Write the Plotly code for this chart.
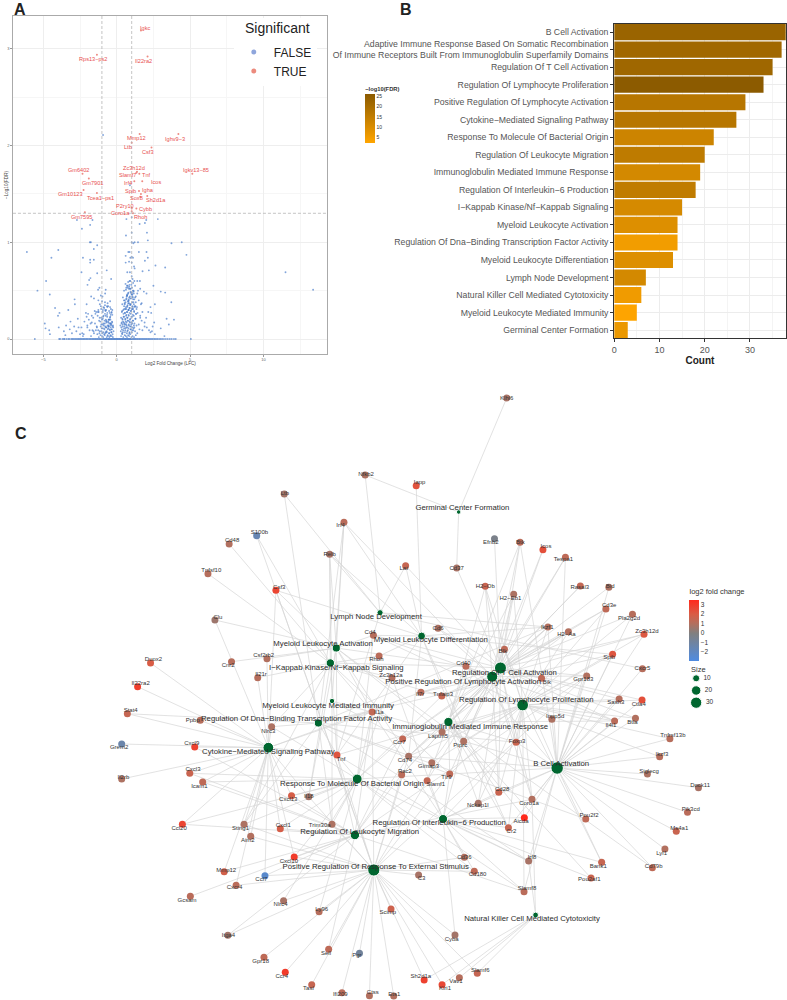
import plotly.graph_objects as go

W, H = 787, 1000

# ---------- Panel A: volcano ----------
sig_genes = ["Igkc","Rps13−ps2","Il22ra2","Mmp12","Ighv9−3","Ltb","Csf3","Gm6402","Zc3h12d","Igkv13−85",
             "Slamf7","Tnf","Irf4","Icos","Gm7901","Igha","Spib","Sox8","Gm10123","Tcea1−ps1",
             "Sh2d1a","P2ry10","Cybb","Coro1a","Rhoh","Gm7595"]
sig_lfc = [1.65,-1.35,2.1,1.56,4.2,1.02,2.37,-2.33,1.38,5.15,
           1.34,1.54,1.2,1.74,-1.9,1.65,1.52,1.6,-2.26,-1.35,
           2.08,1.02,1.34,1.02,1.11,-2.17]
sig_fdr = [3.19,2.94,2.92,2.12,2.12,2.03,1.98,1.71,1.73,1.71,
           1.72,1.71,1.63,1.63,1.66,1.5,1.53,1.47,1.54,1.51,
           1.48,1.35,1.35,1.32,1.3,1.31]
sig_label_x = [142.7,90.7,141.7,134.3,172.7,125.3,145.3,76.3,131.7,194,
               125.3,144.7,125.3,153.3,90,145.3,127.7,134.3,67.7,98.3,
               154,122.7,143,118.3,137.7,78.7]
sig_label_y = [28,59.3,61.3,138.3,139.3,146.7,152,169.7,167.7,169.7,
               175.3,174.7,182.7,182,183,189.7,190.7,198,194.3,198,
               200,205.7,209.3,213,216.7,216.7]

# points on the y=0 floor of the volcano
floor_lfc = [-5.58,-3.92,-3.85,-3.7,-3.6,-3.55,-3.42,-3.3,-3.22,-3.1,-3.02,-2.95,-2.86,-2.78,-2.7,-2.62,-2.55,-2.47,-2.4,-2.32,
             -2.25,-2.18,-2.1,-2.03,-1.96,-1.88,-1.81,-1.74,-1.66,-1.6,-1.53,-1.46,-1.4,-1.33,-1.27,-1.2,-1.14,-1.08,-1.02,-0.96,
             -0.9,-0.85,-0.79,-0.74,-0.68,-0.63,-0.58,-0.53,-0.48,-0.43,-0.38,-0.33,-0.28,-0.23,-0.18,-0.13,-0.08,-0.03,0.02,0.07,
             0.12,0.17,0.22,0.27,0.32,0.37,0.42,0.47,0.52,0.57,0.62,0.67,0.72,0.77,0.82,0.87,0.92,0.97,1.02,1.08,
             1.14,1.2,1.26,1.32,1.39,1.45,1.52,1.58,1.65,1.72,1.79,1.86,1.93,2.0,2.07,2.15,2.22,2.3,2.38,2.46,
             2.55,2.63,2.72,2.8,2.9,3.0,3.1,3.22,3.35,3.48,3.62,3.75,3.9,4.02,5.05]

# points above the floor
ns_lfc = [-0.93,-2.71,-1.65,-1.81,-2.37,0.66,1.02,1.56,1.92,2.01,2.8,2.06,1.02,0.63,0.9,
          -6.12,-3.98,-4.45,-2.3,-1.81,-1.81,-1.56,-1.56,-1.33,-1.83,-1.76,-2.4,-1.33,-0.68,-0.38,
          -1.79,-1.88,-1.99,-4.81,-5.4,-4.56,-2.87,-1.74,-1.18,-1.27,-0.75,-0.79,-1.08,-0.97,-1.25,
          0.79,0.88,1.02,0.61,0.93,1.11,0.84,0.61,1.02,1.18,1.22,0.72,0.9,1.02,1.08,
          1.2,1.4,1.58,1.51,2.03,2.12,1.92,2.64,3.3,1.76,2.19,4.75,3.73,4.43,11.5,13.38,1.02,1.13,1.22,1.45,2.12,
          0.75,0.85,0.95,1.1,0.8,1.0,1.15,0.7,0.9,1.05,1.25,0.65,0.82,1.0,1.12,1.3,1.45,1.6,1.85,
          2.03,2.5,3.0,3.3,3.72,2.6,2.3,1.7,0.55,0.72,0.92,1.1,1.28,0.6,0.82,1.02,1.18,1.35,
          2.35,3.4,3.55,3.9,-4.2,-3.9,-4.0,-3.3,-2.85,-2.65,-2.1,-2.05,-1.55,-1.15,-1.0,-0.8,-0.62,-0.45,-0.72,-1.4,
          -4.9,-4.85,-4.6,-4.55,-3.95,-3.6,-3.5,-3.2,-3.05,-2.9,-2.75,-2.4,-2.25,-2.0,-1.85,-1.7,-1.55,-1.35,-1.2,-1.05,
          -0.95,-0.88,-0.8,-0.72,-0.65,-0.58,-0.5,-0.42,-0.35,-1.15,-1.02,-0.9,-0.78,-0.7,-0.55,-0.48,-0.4,-0.3,-1.32,-1.1,
          -0.98,-0.85,-0.75,-0.62,-0.52,-0.44,-0.36,-0.28,-1.42,-1.22,-1.0,-0.92,-0.82,-0.68,-0.6,-0.5,-0.42,-0.34,-0.26,-1.6,
          -1.3,-1.12,-0.95,-0.86,-0.74,-0.66,-0.56,-0.46,-0.38,-0.32,-0.24,-1.75,-1.45,-1.25,-1.05,-0.9,-0.76,-0.7,-0.58,-0.47,
          -0.4,-0.3,-0.22,-2.2,-1.95,-1.65,-1.48,-1.28,-1.08,-0.94,-0.8,-0.64,-0.54,-0.45,-0.36,-0.26,-2.5,-2.3,-1.9,-1.7,
          0.3,0.38,0.45,0.55,0.62,0.7,0.78,0.85,0.92,1.0,1.08,1.18,1.3,0.28,0.35,0.42,0.5,0.58,0.65,0.72,
          0.8,0.88,0.95,1.05,1.15,1.25,1.4,0.25,0.33,0.4,0.48,0.55,0.62,0.68,0.75,0.82,0.9,0.98,1.06,1.2,
          1.35,1.55,0.3,0.4,0.5,0.58,0.66,0.74,0.82,0.9,1.0,1.12,1.28,1.5,1.75,0.35,0.45,0.55,0.64,0.72,
          0.8,0.88,0.97,1.1,1.3,1.6,1.9,2.2,0.38,0.5,0.6,0.7,0.78,0.86,0.96,1.08,1.22,1.42,1.7,2.05,
          2.4,0.42,0.55,0.68,0.8,0.92,1.05,1.2,1.38,1.6,1.9,2.3,2.6,0.5,0.65,0.78,0.9,1.02,1.15,1.3,
          1.5,1.75,2.0,2.45,0.6,0.75,0.88,1.0,1.12,1.25,1.4,1.65,2.15,2.55,3.0,3.25,
          0.31,0.36,0.41,0.44,0.52,0.56,0.6,0.63,0.69,0.73,0.76,0.83,0.86,0.91,0.94,0.99,1.03,1.07,1.13,1.17,
          0.34,0.39,0.43,0.47,0.53,0.59,0.64,0.67,0.71,0.77,0.81,0.87,0.93,0.96,1.01,1.04,1.09,1.16,1.21,1.27,
          0.37,0.46,0.51,0.57,0.61,0.69,0.74,0.79,0.84,0.89,0.98,1.06,1.11,1.19,1.24,1.33,0.49,0.54,0.66,0.71,
          0.76,0.85,0.91,1.03,1.14,0.63,0.72,0.81,0.94,1.07,1.17,0.7,0.83,0.97,1.1,0.78,0.87,1.04,0.92,1.16,
          -1.18,-1.04,-0.99,-0.91,-0.84,-0.77,-0.71,-0.67,-0.61,-0.57,-0.51,-0.46,-0.41,-0.37,-0.33,-0.27,-1.26,-1.09,-0.96,-0.87,
          -0.81,-0.73,-0.69,-0.63,-0.59,-0.53,-0.49,-0.43,-0.39,-0.31,-1.36,-1.16,-1.01,-0.93,-0.83,-0.76,-0.64,-0.55,-0.44,-0.35,
          -1.5,-1.23,-1.06,-0.89,-0.79,-0.66,-0.52,-0.41,-2.05,-1.78,-2.6,-3.15,-3.45,-2.35,-2.0,-1.58]
ns_fdr = [2.11,1.23,1.23,1.18,1.14,1.24,1.26,1.19,1.2,1.23,1.24,1.1,1.1,1.07,1.59,
          0.9,0.92,0.84,0.84,0.82,0.79,0.82,0.93,0.97,1.0,1.0,0.69,0.68,0.71,0.62,
          0.63,0.61,0.56,0.6,0.5,0.46,0.41,0.44,0.53,0.51,0.51,0.47,0.45,0.44,0.4,
          0.9,0.9,0.85,0.86,0.84,0.84,0.8,0.79,0.79,0.75,0.73,0.69,0.69,0.65,0.62,
          0.6,0.6,0.6,0.9,0.9,0.84,0.81,0.76,0.74,0.7,0.71,0.87,0.99,1.0,0.69,0.51,1.0,0.99,1.0,1.0,1.02,
          0.53,0.54,0.52,0.5,0.48,0.47,0.49,0.45,0.44,0.46,0.43,0.41,0.4,0.42,0.41,0.38,0.5,0.52,0.49,
          0.47,0.55,0.49,0.48,0.38,0.36,0.33,0.37,0.36,0.34,0.35,0.33,0.34,0.31,0.3,0.31,0.29,0.31,
          0.27,0.21,0.15,0.2,0.32,0.27,0.24,0.3,0.36,0.21,0.27,0.36,0.42,0.36,0.39,0.35,0.37,0.33,0.3,0.28,
          0.16,0.11,0.09,0.05,0.12,0.08,0.04,0.1,0.06,0.13,0.08,0.12,0.05,0.14,0.09,0.17,0.06,0.12,0.19,0.15,
          0.21,0.14,0.26,0.18,0.23,0.11,0.2,0.16,0.28,0.08,0.11,0.16,0.13,0.08,0.14,0.1,0.16,0.3,0.05,0.04,
          0.06,0.05,0.07,0.04,0.06,0.03,0.07,0.05,0.09,0.02,0.03,0.02,0.04,0.02,0.03,0.02,0.04,0.03,0.02,0.22,
          0.24,0.18,0.28,0.32,0.2,0.25,0.17,0.22,0.15,0.18,0.12,0.03,0.26,0.3,0.22,0.24,0.29,0.19,0.34,0.27,
          0.31,0.25,0.08,0.18,0.26,0.09,0.16,0.28,0.34,0.3,0.38,0.33,0.2,0.39,0.1,0.14,0.05,0.03,0.2,0.24,
          0.03,0.05,0.02,0.04,0.03,0.02,0.04,0.03,0.05,0.02,0.03,0.02,0.04,0.08,0.1,0.07,0.11,0.09,0.12,0.08,
          0.11,0.07,0.1,0.09,0.11,0.08,0.06,0.14,0.16,0.13,0.17,0.15,0.18,0.14,0.19,0.15,0.17,0.13,0.16,0.12,
          0.14,0.1,0.22,0.2,0.23,0.21,0.25,0.22,0.24,0.2,0.23,0.19,0.21,0.15,0.09,0.28,0.3,0.27,0.31,0.28,
          0.3,0.27,0.29,0.25,0.26,0.22,0.13,0.09,0.36,0.34,0.38,0.33,0.37,0.32,0.36,0.31,0.34,0.27,0.19,0.12,
          0.08,0.43,0.4,0.44,0.39,0.42,0.38,0.41,0.33,0.24,0.17,0.07,0.05,0.5,0.53,0.47,0.52,0.46,0.5,0.44,
          0.4,0.28,0.22,0.13,0.57,0.55,0.6,0.56,0.58,0.55,0.47,0.36,0.28,0.17,0.11,0.03,
          0.12,0.06,0.15,0.09,0.13,0.07,0.11,0.15,0.06,0.12,0.09,0.14,0.06,0.13,0.1,0.15,0.07,0.12,0.09,0.14,
          0.17,0.21,0.18,0.23,0.16,0.2,0.24,0.17,0.22,0.19,0.25,0.18,0.21,0.26,0.17,0.23,0.19,0.24,0.16,0.21,
          0.29,0.26,0.31,0.27,0.33,0.28,0.35,0.3,0.37,0.32,0.29,0.34,0.31,0.28,0.33,0.26,0.4,0.37,0.42,0.45,
          0.39,0.43,0.36,0.48,0.38,0.51,0.46,0.41,0.49,0.44,0.36,0.55,0.52,0.48,0.43,0.59,0.56,0.53,0.6,0.47,
          0.06,0.08,0.11,0.07,0.1,0.06,0.12,0.07,0.1,0.13,0.06,0.09,0.12,0.07,0.1,0.13,0.09,0.13,0.15,0.11,
          0.16,0.12,0.17,0.14,0.18,0.13,0.16,0.2,0.14,0.17,0.13,0.22,0.2,0.23,0.19,0.24,0.27,0.2,0.23,0.27,
          0.29,0.28,0.31,0.33,0.3,0.34,0.29,0.25,0.23,0.16,0.12,0.18,0.14,0.06,0.12,0.08]

# ---------- Panel B: bars ----------
term_bar_names = ["B Cell Activation",
    "Adaptive Immune Response Based On Somatic Recombination<br>Of Immune Receptors Built From Immunoglobulin Superfamily Domains",
    "Regulation Of T Cell Activation","Regulation Of Lymphocyte Proliferation",
    "Positive Regulation Of Lymphocyte Activation","Cytokine−Mediated Signaling Pathway",
    "Response To Molecule Of Bacterial Origin","Regulation Of Leukocyte Migration",
    "Immunoglobulin Mediated Immune Response","Regulation Of Interleukin−6 Production",
    "I−Kappab Kinase/Nf−Kappab Signaling","Myeloid Leukocyte Activation",
    "Regulation Of Dna−Binding Transcription Factor Activity","Myeloid Leukocyte Differentiation",
    "Lymph Node Development","Natural Killer Cell Mediated Cytotoxicity",
    "Myeloid Leukocyte Mediated Immunity","Germinal Center Formation"]
term_bar_count = [38,37,35,33,29,27,22,20,19,18,15,14,14,13,7,6,5,3]
term_bar_fdr = [23,21.5,22,26,17,17,12.5,15.5,11,15,10.5,9,4.5,9,11,5,2,6]

# ---------- Panel C: network ----------
gene_names = ["Nfkb2","Ltb","Irf4","S100b","Cd48","Relb","Tnfsf10","Csf3","Clu","Cd4",
    "Rhoh","Duox2","Cnr2","Csf2rb2","Il21r","Il22ra2","Zc3h12a","Il7r","Tnfaip3","Il1a",
    "Nlrc3","Tnf","Ccr7","Laptm5","Ptprc","Cd74","Gimap3","Rac2","Tlr9","Slamf1",
    "Il18","Cxcl13","Cd40","Cd6","Stat4","Ppbp","Grem2","Cxcl9","Cxcl3","Il2rb",
    "Icam1","Ccl20","Sting1","Aim2","Cxcl1","Trim30a","Cxcl10","Mmp12","Ccl7","Cxcr4",
    "Gcsam","Nlrc4","Ly96","Scimp","Itga4","Sell","Pgr","Gpr18","Ccr4","Tasl",
    "Ifi209","Ctss","Ets1","Klhl6","Iapp","Efnb2","Btk","Icos","Tespa1","Lat",
    "Cd37","H2−Ob","H2−Eb1","Rasal3","Bid","Cd3e","Pla2g2d","Ikzf1","H2−Aa","Zc3h12d",
    "Blk","Spib","Cxcr5","Gpr183","Bik","Sash3","Ctla4","Inpp5d","Il4i1","Btla",
    "Tnfrsf13b","Foxp3","Ikzf3","Siglecg","Dock11","Cd28","Coro1a","Nckap1l","Pik3cd","Pou2f2",
    "Aicda","Ms4a1","Cr2","Lyl1","Cd79b","Bank1","Irf8","Cd36","Cd180","C3",
    "Pou2af1","Slamf8","Cyba","Slamf6","Sh2d1a","Vav1","Klri1"]
gene_lfc = [0.9,0.7,1.2,-1.5,1.0,0.8,1.1,2.7,0.6,1.1,
    1.2,2.0,1.1,1.0,1.1,2.9,1.0,1.2,1.5,1.4,
    0.9,2.2,1.4,0.9,0.9,0.8,0.9,1.2,1.3,1.4,
    0.7,1.9,1.2,0.9,1.5,1.1,-1.3,2.8,1.6,0.9,
    1.3,2.7,0.9,1.0,1.9,0.9,3.0,1.8,-2.3,1.2,
    1.2,0.8,1.1,1.7,0.7,1.3,-0.8,1.3,3.0,1.5,
    1.2,1.0,1.0,0.8,2.3,-0.3,1.2,2.4,1.3,1.5,
    0.8,1.6,0.9,1.4,0.9,1.3,1.1,1.0,1.0,2.1,
    1.3,2.2,1.1,1.0,1.3,1.1,2.4,0.9,1.2,1.0,
    1.1,1.6,1.1,0.9,0.8,1.6,1.0,0.8,1.2,1.3,
    3.5,1.6,1.5,1.0,1.3,1.5,0.8,1.0,1.3,0.8,
    1.6,1.2,0.7,1.5,2.8,1.1,2.6]
# network layout coordinates of the gene nodes
gene_x = [364,282.7,342.7,255,227.3,328.3,206,274.3,213,372.3,
    378,148.3,229.7,265.3,256,135.3,391,420,441,371,
    270,335.7,401.7,441.3,463,407.7,431,400.7,449,426.3,
    307.3,290,465.3,437.3,125,198.3,119.3,192.7,187.7,119.3,
    200.7,180.3,242.3,249,278.7,330.7,292.7,222.3,263.3,234.3,
    188.3,282,317.7,390,226,327.3,358.3,262.3,283.7,310.3,
    340.7,368.3,392.7,506.3,415.3,494,519.7,542.7,565.3,404.7,
    456,484.7,513.3,580.3,609,606,632.7,547.7,568.3,644.3,
    504,612.7,642.7,586.7,541.3,619.3,642.3,551.7,614.7,635.7,
    670.3,515.7,660,647.7,699,498.3,531.7,477.7,688,585.7,
    524,676.7,508,665.3,652.7,601.7,528.3,463.7,473.7,417.7,
    591,523.7,454.3,476.7,423.3,458.7,441.3]
gene_y = [475,494,522.3,535.7,544,554.3,573.7,590.3,620,635.3,
    656,663,661.7,658.7,677.7,686.7,677.7,692.3,696,712,
    726.7,755,739,732,741.3,756.3,762.7,774.7,774,780.7,
    796.7,795.7,666.3,628.3,713.7,720.3,744,747,773.3,779,
    782,824.3,824.3,836.3,828.7,824.3,857,871.7,875.7,885.3,
    896.3,900.7,911.7,909,935.3,949.3,953.3,957.3,972.3,984.7,
    992.7,995.7,996,398,485.7,538.7,542.3,549.7,557.3,565.7,
    568,586.3,594.3,586,587.3,609,614.3,627,631.7,634.3,
    649.3,654.3,668.7,676,678.3,699,700,719.3,721,718.3,
    738.7,742.3,756.7,774,787.7,792.3,799.3,803.3,812.3,819,
    817.7,831.3,827.7,849,867.7,862.3,861,857.3,871.3,875,
    878,891.7,935,973.3,980,977.7,984.7]
gene_label_x = [365,283.3,339.3,257.7,230.3,328.3,209.3,277.7,216,369,
    375.3,151.3,226.3,262,259.3,138.3,390,419.3,442.3,377.7,
    266.7,339.7,398.3,437.3,459.7,404,427.7,404,445.7,435,
    307.3,286.7,462.7,437.3,128.3,190.7,116.7,189.7,191,121,
    197.3,177,238.7,246,281.7,318.3,287.3,224.3,259.7,232.7,
    185,279,320.3,386.7,226.7,324.7,355.7,259,280.3,307,
    339,371.7,393.3,506.3,418.7,490.3,520,545.7,563.3,402.7,
    456,484.7,510,579.7,610.3,609.3,629.3,547,566.3,647.3,
    502.3,609.3,642.7,583.3,546.7,616,639,555,611,632.7,
    673.3,516.7,662.3,649.3,700.7,501.7,528.7,477.3,691.3,589,
    520.7,679.7,511,662,654,598.3,531.7,463.7,477,420.7,
    589.3,526.7,451,479.7,420,455.3,444.3]
gene_label_y = [474,493.3,525.7,532.7,540.7,554.7,570.7,587.3,617,632,
    659,659.7,665.3,655.7,674.3,683.3,675.3,694,694,712.7,
    731,759,742.7,736,745.3,760.3,766.3,771,777.7,784.7,
    796.7,799.7,663.3,628.3,710.7,720.3,747.3,743.3,769.7,777.7,
    786,828,828,840.3,825,825,861,870,879.7,887.7,
    900,904.7,909,912.7,935,953,955.3,961.3,976,988.7,
    994.3,992.7,994,398,482.3,542.7,542,546.7,559.7,568.7,
    568,586.3,598.3,587.7,586.3,605.7,618,627.7,634.7,631.3,
    651.3,657.7,668.7,679.7,682.3,702.7,704,716,725,722,
    735,741.7,754,771.7,785.7,789,803.7,805,809,815.7,
    821.3,828,831.3,853,866,866.3,857.7,857.3,874.7,878.7,
    879.7,888.7,939,970.3,976.7,981.7,988.7]

term_names = ["Germinal Center Formation","Lymph Node Development","Myeloid Leukocyte Differentiation",
    "Myeloid Leukocyte Activation","I−Kappab Kinase/Nf−Kappab Signaling","Regulation Of T Cell Activation",
    "Positive Regulation Of Lymphocyte Activation","Myeloid Leukocyte Mediated Immunity",
    "Regulation Of Dna−Binding Transcription Factor Activity","Regulation Of Lymphocyte Proliferation",
    "Immunoglobulin Mediated Immune Response","Cytokine−Mediated Signaling Pathway","B Cell Activation",
    "Response To Molecule Of Bacterial Origin","Regulation Of Interleukin−6 Production",
    "Regulation Of Leukocyte Migration","Positive Regulation Of Response To External Stimulus",
    "Natural Killer Cell Mediated Cytotoxicity"]
term_size = [3,7,13,14,15,35,29,5,14,33,19,27,38,22,18,20,36,6]
term_x = [458,379,420.7,335,329,500,491.7,330.7,317,522.3,447.7,266.7,557,356,442.3,353.7,372.7,535.3]
term_y = [512,612.7,636,648,663,668,676.7,701,723,705,722,747.7,768,779,819,835,870,915]
term_label_x = [461.7,375,430,321.7,335,504,462.5,326.7,295,526,469.5,266.7,561,350.7,438.5,358.5,374.7,531.7]
term_label_y = [508,617,640,643.7,668,672.7,682,705.7,719,700,726.7,752,764,784,823,831.7,866.7,919]

term_genes = {
 "Germinal Center Formation": ["Klhl6","Nfkb2","Cd37"],
 "Lymph Node Development": ["Nfkb2","Ltb","Relb","Ikzf1","Cxcr5","Lat","Tnf"],
 "Myeloid Leukocyte Differentiation": ["Iapp","Irf4","Relb","Csf3","Cd4","Rhoh","Lat","Ikzf1","Spib","Tnf","Cd74","Ptprc","Cr2"],
 "Myeloid Leukocyte Activation": ["Csf3","Clu","Cnr2","Csf2rb2","Irf4","Il1a","Cd4","Tnf","Laptm5","Ptprc","Cd40","Il18","Cd74","Relb"],
 "I−Kappab Kinase/Nf−Kappab Signaling": ["Tnfsf10","Cd48","Relb","S100b","Zc3h12a","Tnfaip3","Rhoh","Il1a","Tnf","Cd40","Il21r","Nlrc3","Tlr9","Sting1","Il18"],
 "Regulation Of T Cell Activation": ["Efnb2","Btk","Icos","Tespa1","Rasal3","H2−Ob","H2−Eb1","H2−Aa","Cd3e","Pla2g2d","Zc3h12d","Cd37","Lat","Cd4","Cd40","Bik","Gpr183","Ikzf1","Sash3","Ctla4","Btla","Il4i1","Il7r","Tnfaip3","Ccr7","Laptm5","Ptprc","Cd74","Gimap3","Rac2","Cd28","Coro1a","Foxp3","Nckap1l","Cd6"],
 "Positive Regulation Of Lymphocyte Activation": ["Cd28","Cd40","Cd4","Icos","Tespa1","Rasal3","Bid","Cd3e","Blk","Btk","Cd74","H2−Aa","H2−Eb1","H2−Ob","Ikzf1","Ccr7","Ptprc","Foxp3","Il7r","Tnfaip3","Zc3h12d","Tlr9","Il4i1","Coro1a","Slamf1","Gpr183","Rac2","Cd6","Irf4"],
 "Myeloid Leukocyte Mediated Immunity": ["Irf4","Relb","Laptm5","Trim30a","Ccr7"],
 "Regulation Of Dna−Binding Transcription Factor Activity": ["Stat4","Nlrc3","Il1a","Tnf","Foxp3","Irf4","Ltb","Spib","Ikzf1","Pou2f2","Irf8","Tlr9","Sting1","Trim30a"],
 "Regulation Of Lymphocyte Proliferation": ["Cd4","Cd28","Cd40","Btla","Ctla4","Il4i1","Sash3","Blk","Bank1","Foxp3","Ptprc","Tnfrsf13b","Inpp5d","Zc3h12d","Cd3e","Spib","Ikzf3","Pla2g2d","H2−Aa","H2−Eb1","H2−Ob","Ikzf1","Laptm5","Ccr7","Cd74","Gpr183","Tlr9","Coro1a","Il7r","Cr2","Slamf8","Nckap1l","Gimap3"],
 "Immunoglobulin Mediated Immune Response": ["Aicda","Cd28","Cr2","Tlr9","Ptprc","Foxp3","Cd40","Slamf1","H2−Aa","H2−Eb1","H2−Ob","Cd74","Btk","Il4i1","Pou2af1","Cd79b","Nckap1l","Tnf","Ikzf1"],
 "Cytokine−Mediated Signaling Pathway": ["Duox2","Il22ra2","Stat4","Ppbp","Grem2","Cxcl9","Cxcl3","Il2rb","Icam1","Ccl20","Sting1","Aim2","Cxcl1","Cxcl10","Mmp12","Cxcr4","Nlrc3","Tnf","Il1a","Csf2rb2","Il21r","Clu","Il18","Cxcl13","Ccl7","Csf3","Il7r"],
 "B Cell Activation": ["Cd79b","Lyl1","Ms4a1","Pik3cd","Dock11","Siglecg","Ikzf3","Tnfrsf13b","Btla","Il4i1","Ctla4","Sash3","Inpp5d","Foxp3","Pou2f2","Bank1","Irf8","Aicda","Cr2","Coro1a","Cd28","Spib","Bid","Cd3e","Pla2g2d","Tespa1","Blk","Btk","Ikzf1","Cd40","Zc3h12d","Nckap1l","Ptprc","Tlr9","Cd74","Slamf8","Cxcr5","Gpr183"],
 "Response To Molecule Of Bacterial Origin": ["Tnf","Il1a","Tlr9","Cd180","Cxcl1","Cxcl3","Cxcl13","Cxcl10","Ccl20","Icam1","Ly96","Nlrc4","Trim30a","Il18","Irf8","Cd4","Ccr7","Nlrc3","Sting1","Slamf8","Zc3h12a","Tnfaip3"],
 "Regulation Of Interleukin−6 Production": ["Cyba","Aicda","Cr2","Cd36","Cd180","Slamf8","Tnf","Cd28","Tlr9","Nckap1l","Pou2af1","Bank1","Irf8","Foxp3","Ptprc","Il1a","Zc3h12a","Slamf1"],
 "Regulation Of Leukocyte Migration": ["Ccr7","Ccl7","Cxcl10","Cxcl1","Ccl20","Cxcl9","Cxcl13","Cxcl3","Tnf","Il1a","Gcsam","Sell","Icam1","Itga4","Cd74","Rac2","Coro1a","Slamf8","Mmp12","Gpr183"],
 "Positive Regulation Of Response To External Stimulus": ["Scimp","C3","Cd36","Cd180","Cyba","Ctss","Ets1","Sh2d1a","Vav1","Klri1","Slamf6","Ifi209","Tasl","Ccr4","Gpr18","Itga4","Ly96","Nlrc4","Pgr","Sell","S100b","Ccl7","Cxcl10","Cxcr4","Aim2","Sting1","Trim30a","Tlr9","Il1a","Tnf","Gpr183","Slamf1","Rac2","Il18","Cd74","Csf3"],
 "Natural Killer Cell Mediated Cytotoxicity": ["Coro1a","Irf8","Sh2d1a","Vav1","Klri1","Slamf6"],
}

size_legend_values = [10, 20, 30]
a_xticks = [-5, 0, 5, 10]
a_yticks = [0, 1, 2, 3]
b_cbar_ticks = [5, 10, 15, 20, 25]
lfc_ticks = [-2, -1, 0, 1, 2, 3]

assert len({len(gene_names),len(gene_lfc),len(gene_x),len(gene_y),len(gene_label_x),len(gene_label_y)}) == 1
assert len(ns_lfc) == len(ns_fdr), (len(ns_lfc), len(ns_fdr))

# ---------- helpers ----------
def px(x): return x / W
def py(y): return 1 - y / H
def term_px(n): return 1.8 * n ** 0.5 + 1.4

FONT = "Liberation Sans"
LFC_MIN, LFC_MAX = -2.9, 3.5
span = LFC_MAX - LFC_MIN
def lfc_pos(v): return (v - LFC_MIN) / span
lfc_scale = [[0, "#4f8be0"], [lfc_pos(0), "#808080"], [lfc_pos(1), "#b2705f"], [lfc_pos(2), "#d95c45"], [1, "#ff2a1c"]]
fdr_scale = [[0, "#FFA500"], [1, "#8B5A00"]]
BLUE = "#3f74c8"; SALMON = "#ee8a82"; GREEN = "#00662f"

fig = go.Figure()

# Panel C first (lowest layer)
idx = {g: i for i, g in enumerate(gene_names)}
ex, ey = [], []
for t, genes in term_genes.items():
    ti = term_names.index(t)
    for g in genes:
        gi = idx[g]
        ex += [term_x[ti], gene_x[gi], None]
        ey += [term_y[ti], gene_y[gi], None]
fig.add_trace(go.Scatter(x=ex, y=ey, mode="lines", xaxis="x3", yaxis="y3", showlegend=False, hoverinfo="skip",
                         line=dict(color="#d6d6d6", width=0.7)))
fig.add_trace(go.Scatter(x=gene_x, y=gene_y, mode="markers", xaxis="x3", yaxis="y3", showlegend=False,
    marker=dict(size=7, opacity=1, color=gene_lfc, cmin=LFC_MIN, cmax=LFC_MAX, colorscale=lfc_scale,
                colorbar=dict(x=px(690), xanchor="left", xpad=0, y=py(660.7), yanchor="bottom", ypad=0,
                              lenmode="pixels", len=75, thicknessmode="pixels", thickness=9.5,
                              tickvals=lfc_ticks, ticktext=["−2","−1","0","1","2","3"], ticks="", outlinewidth=0,
                              tickfont=dict(size=6.5, color="#333", family=FONT),
                              title=dict(text="log2 fold change", side="top", font=dict(size=7.5, color="#333", family=FONT))))))
fig.add_trace(go.Scatter(x=term_x, y=term_y, mode="markers", xaxis="x3", yaxis="y3", showlegend=False,
    marker=dict(size=[term_px(n) for n in term_size], opacity=1, color=GREEN)))
fig.add_trace(go.Scatter(x=gene_label_x, y=gene_label_y, text=gene_names, mode="text", xaxis="x3", yaxis="y3",
    showlegend=False, textposition="middle center", textfont=dict(size=6, color="#333", family=FONT), hoverinfo="skip"))
fig.add_trace(go.Scatter(x=term_label_x, y=term_label_y, text=term_names, mode="text", xaxis="x3", yaxis="y3",
    showlegend=False, textposition="middle center", textfont=dict(size=7.75, color="#2c2c2c", family=FONT), hoverinfo="skip"))

# Size legend of Panel C
fig.add_trace(go.Scatter(x=[0]*3, y=size_legend_values, xaxis="x4", yaxis="y4", mode="markers+text", cliponaxis=False,
    text=[f" {v}" for v in size_legend_values], textposition="middle right",
    textfont=dict(size=6.5, color="#333", family=FONT), showlegend=False,
    marker=dict(size=[term_px(v) for v in size_legend_values], opacity=1, color=GREEN)))

# Panel A
fig.add_trace(go.Scatter(x=floor_lfc + ns_lfc, y=[0]*len(floor_lfc) + ns_fdr, mode="markers", showlegend=False,
    xaxis="x", yaxis="y", marker=dict(size=1.9, color=BLUE, opacity=0.65)))
fig.add_trace(go.Scatter(x=sig_lfc, y=sig_fdr, mode="markers", showlegend=False, xaxis="x", yaxis="y",
    marker=dict(size=2, color=SALMON)))
fig.add_trace(go.Scatter(x=[None], y=[None], mode="markers", name="FALSE", xaxis="x", yaxis="y", legendgroup="f",
    marker=dict(size=5, color="#8fa6dc")))
fig.add_trace(go.Scatter(x=[None], y=[None], mode="markers", name="TRUE", xaxis="x", yaxis="y", legendgroup="t",
    marker=dict(size=5, color="#ec8b7e")))

# Panel B
fig.add_trace(go.Bar(y=term_bar_names, x=term_bar_count, orientation="h", xaxis="x2", yaxis="y2", showlegend=False,
    width=0.92,
    marker=dict(color=term_bar_fdr, cmin=1.75, cmax=26.2, colorscale=fdr_scale, line_width=0,
                colorbar=dict(x=px(364), xanchor="left", xpad=0, y=py(143.3), yanchor="bottom", ypad=0,
                              lenmode="pixels", len=60, thicknessmode="pixels", thickness=10,
                              tickvals=b_cbar_ticks, ticks="", outlinewidth=0,
                              tickfont=dict(size=5, color="#333", family=FONT),
                              title=dict(text="<b>−log10(FDR)</b>", side="top", font=dict(size=5.8, color="#333", family=FONT))))))

shapes = [
    dict(type="line", xref="x", yref="paper", x0=-1.01, x1=-1.01, y0=py(354), y1=py(16), line=dict(color="#b5b5b5", width=0.8, dash="3px,2px")),
    dict(type="line", xref="x", yref="paper", x0=1.02, x1=1.02, y0=py(354), y1=py(16), line=dict(color="#b5b5b5", width=0.8, dash="3px,2px")),
    dict(type="line", xref="paper", yref="y", x0=px(10), x1=px(326), y0=1.3, y1=1.3, line=dict(color="#b5b5b5", width=0.8, dash="3px,2px")),
]

annotations = []
for g, lx, ly in zip(sig_genes, sig_label_x, sig_label_y):
    annotations.append(dict(text=g, xref="paper", yref="paper", x=px(lx), y=py(ly), showarrow=False,
                            xanchor="center", yanchor="middle", font=dict(size=5.6, color="#e8504f", family=FONT)))
for letter, lx, ly, s in [("A", 17, 9.5, 16), ("B", 405, 9.5, 16), ("C", 18, 433, 16)]:
    annotations.append(dict(text=f"<b>{letter}</b>", xref="paper", yref="paper", x=px(lx), y=py(ly), showarrow=False,
                            xanchor="center", yanchor="middle", font=dict(size=s, color="#222", family=FONT)))
annotations.append(dict(text="Significant", xref="paper", yref="paper", x=px(241), y=py(28), showarrow=False,
                        xanchor="left", yanchor="middle", font=dict(size=14, color="#222", family=FONT)))
annotations.append(dict(text="Size", xref="paper", yref="paper", x=px(690), y=py(669), showarrow=False,
                        xanchor="left", yanchor="middle", font=dict(size=7.5, color="#333", family=FONT)))
annotations.append(dict(text="Log2 Fold Change (LFC)", xref="paper", yref="paper", x=px(168), y=py(363), showarrow=False,
                        xanchor="center", yanchor="middle", font=dict(size=4.6, color="#444", family=FONT)))
annotations.append(dict(text="−Log10(FDR)", xref="paper", yref="paper", x=px(3), y=py(185), showarrow=False, textangle=-90,
                        xanchor="center", yanchor="middle", font=dict(size=4.6, color="#444", family=FONT)))

hidden = dict(visible=False, showgrid=False, zeroline=False, showticklabels=False)
fig.update_layout(
    width=W, height=H, margin=dict(l=0, r=0, t=0, b=0, pad=0), autosize=False,
    paper_bgcolor="white", plot_bgcolor="rgba(0,0,0,0)", font=dict(family=FONT), shapes=shapes, annotations=annotations,
    bargap=0.08,
    xaxis=dict(domain=[px(10), px(326)], range=[-7.07, 14.35], tickvals=a_xticks, ticktext=["−5","0","5","10"],
               tickfont=dict(size=4, color="#666"), ticks="outside", ticklen=1.5, tickcolor="#999", tickwidth=0.5,
               showline=True, mirror=True, linecolor="#aaaaaa", linewidth=1.2, gridcolor="#eeeeee", gridwidth=0.7,
               minor=dict(dtick=2.5, showgrid=True, gridcolor="#f6f6f6", gridwidth=0.4, ticks=""), zeroline=False, anchor="y"),
    yaxis=dict(domain=[py(354), py(16)], range=[-0.155, 3.34], tickvals=a_yticks,
               tickfont=dict(size=4, color="#666"), ticks="outside", ticklen=1.5, tickcolor="#999", tickwidth=0.5,
               showline=True, mirror=True, linecolor="#aaaaaa", linewidth=1.2, gridcolor="#eeeeee", gridwidth=0.7,
               minor=dict(dtick=0.5, showgrid=True, gridcolor="#f6f6f6", gridwidth=0.4, ticks=""), zeroline=False, anchor="x"),
    xaxis2=dict(domain=[px(614.3), px(786.7)], range=[0, 37.9], tickvals=[0, 10, 20, 30], anchor="y2",
                tickfont=dict(size=9, color="#555", family=FONT), ticks="outside", ticklen=3, tickcolor="#333",
                showline=True, mirror=True, linecolor="#333", linewidth=1, gridcolor="#ececec", zeroline=False,
                minor=dict(dtick=5, showgrid=True, gridcolor="#f4f4f4", gridwidth=0.6, ticks=""),
                title=dict(text="<b>Count</b>", standoff=3, font=dict(size=10, color="#222", family=FONT))),
    yaxis2=dict(domain=[py(338), py(24)], range=[17.45, -0.46], type="category", categoryorder="array",
                categoryarray=term_bar_names, anchor="x2", tickfont=dict(size=8.7, color="#555", family=FONT),
                ticks="outside", ticklen=3, tickcolor="#333", showline=True, mirror=True, linecolor="#333", linewidth=1,
                gridcolor="#ececec", zeroline=False),
    xaxis3=dict(domain=[0, 1], range=[0, W], anchor="y3", **hidden),
    yaxis3=dict(domain=[0, 1], range=[H, 0], anchor="x3", **hidden),
    xaxis4=dict(domain=[px(686.7), px(706.7)], range=[-1, 1], anchor="y4", **hidden),
    yaxis4=dict(domain=[py(708.8), py(672.2)], range=[35, 5], anchor="x4", **hidden),
    legend=dict(x=px(232), y=py(18), xanchor="left", yanchor="top", bgcolor="white", borderwidth=0, tracegroupgap=3.5,
                title=dict(text="&nbsp;", font=dict(size=15, color="#222", family=FONT), side="top"),
                font=dict(size=12, color="#222", family=FONT), traceorder="normal", itemwidth=30),
)
fig.write_html("out.html", config={"displayModeBar": False},
               post_script="document.body.style.margin='0';document.documentElement.style.overflow='hidden';")
